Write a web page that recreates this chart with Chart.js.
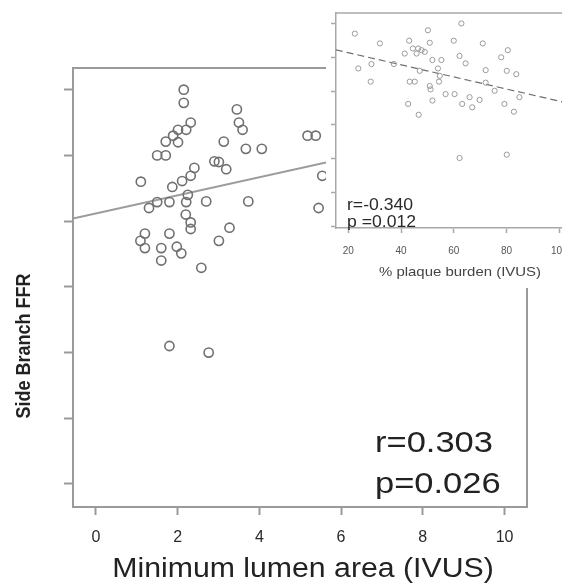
<!DOCTYPE html>
<html>
<head>
<meta charset="utf-8">
<script src="https://cdn.jsdelivr.net/npm/chart.js@4"></script>
<style>
  html, body { margin: 0; padding: 0; background: #fff; overflow: hidden; }
  #wrap { position: relative; width: 562px; height: 586px; overflow: hidden; }
  #main { position: absolute; left: 0; top: 0; }
  #inset { position: absolute; left: 326px; top: 0; background: #fff; }
</style>
</head>
<body>
<div id="wrap">
  <canvas id="main" width="562" height="586"></canvas>
  <canvas id="inset" width="254" height="288"></canvas>
</div>
<script>
// main plot: minimum lumen area vs side branch FFR
const mlaValues = [2.15, 2.15, 2.32, 2.21, 2.01, 1.89, 1.71, 2.01, 1.50, 1.71,
  3.13, 3.45, 3.50, 3.59, 3.67, 4.06, 5.18, 5.38, 5.54, 5.45,
  2.41, 2.32, 2.11, 1.87, 1.10, 2.90, 3.01, 3.19, 2.25, 2.21,
  1.80, 1.50, 1.30, 2.70, 3.73, 2.20, 2.32, 2.32, 3.27, 1.20,
  1.80, 1.09, 1.20, 1.60, 1.98, 2.09, 1.60, 3.01, 2.58, 1.80, 2.76];
const ffrValues = [1.00, 0.980, 0.950, 0.939, 0.939, 0.930, 0.921, 0.920, 0.900, 0.900,
  0.921, 0.970, 0.950, 0.939, 0.910, 0.910, 0.930, 0.930, 0.869, 0.820,
  0.881, 0.869, 0.861, 0.852, 0.860, 0.891, 0.890, 0.879, 0.840, 0.829,
  0.829, 0.829, 0.820, 0.830, 0.830, 0.810, 0.798, 0.788, 0.790, 0.781,
  0.781, 0.770, 0.759, 0.759, 0.761, 0.751, 0.740, 0.770, 0.729, 0.610, 0.600];
const mlaFitX = [-0.56, 10.55];
const mlaFitY = [0.804, 0.957];
const mlaTicks = [0, 2, 4, 6, 8, 10];
const ffrTicks = [0.4, 0.5, 0.6, 0.7, 0.8, 0.9, 1.0];

// inset: plaque burden vs side branch FFR
const burdenValues = [22.5, 32.0, 23.8, 28.8, 28.5, 37.3, 43.1, 41.4, 46.5, 45.9,
  47.8, 50.2, 50.9, 47.1, 43.3, 45.2, 51.9, 55.3, 54.0, 54.7,
  54.4, 50.9, 51.2, 42.7, 46.7, 51.9, 56.9, 60.3, 62.9, 60.0,
  62.2, 64.5, 63.2, 66.0, 67.0, 69.8, 71.0, 72.1, 72.1, 75.5,
  78.0, 80.5, 80.1, 83.7, 79.2, 82.8, 84.9, 62.2, 80.1, 44.5, 49.0];
const burdenFfrValues = [0.970, 0.941, 0.867, 0.880, 0.828, 0.880, 0.949, 0.911, 0.926, 0.911,
  0.921, 0.980, 0.943, 0.860, 0.828, 0.828, 0.892, 0.892, 0.867, 0.845,
  0.828, 0.815, 0.805, 0.762, 0.730, 0.772, 0.791, 0.791, 1.000, 0.949,
  0.904, 0.882, 0.762, 0.782, 0.752, 0.774, 0.941, 0.862, 0.825, 0.801,
  0.900, 0.921, 0.860, 0.850, 0.762, 0.739, 0.782, 0.602, 0.612, 0.926, 0.916];
const burdenFitX = [15.3, 104.6];
const burdenFitY = [0.922, 0.762];
const burdenTicks = [20, 40, 60, 80, 100];

const toPoints = (xs, ys) => xs.map((x, i) => ({ x: x, y: ys[i] }));
const setTicks = (arr) => (scale) => { scale.ticks = arr.map(v => ({ value: v })); };

// the picture is a bit wider than tall, so text is stretched sideways
function stretchText(ctx, text, x, y, sx, align) {
  ctx.save();
  ctx.translate(x, y);
  ctx.scale(sx, 1);
  ctx.textAlign = align;
  ctx.fillText(text, 0, 0);
  ctx.restore();
}

const mainDecor = {
  id: 'mainDecor',
  afterDraw(chart) {
    const ctx = chart.ctx;
    const a = chart.chartArea;
    ctx.save();
    ctx.strokeStyle = '#9a9a9a';
    ctx.lineWidth = 2;
    ctx.beginPath();
    ctx.moveTo(a.left, a.top);
    ctx.lineTo(a.right, a.top);
    ctx.lineTo(a.right, a.bottom);
    ctx.stroke();

    ctx.fillStyle = '#222';
    ctx.textBaseline = 'alphabetic';
    ctx.font = '30px "Liberation Sans", Arial, sans-serif';
    stretchText(ctx, 'r=0.303', 375, 452, 1.15, 'left');
    stretchText(ctx, 'p=0.026', 375, 493, 1.15, 'left');

    ctx.font = '27px "Liberation Sans", Arial, sans-serif';
    stretchText(ctx, 'Minimum lumen area (IVUS)', 303, 577, 1.12, 'center');

    ctx.save();
    ctx.translate(25, 346);
    ctx.rotate(-Math.PI / 2);
    ctx.scale(1, 1.1);
    ctx.font = 'bold 18px "Liberation Sans", Arial, sans-serif';
    ctx.textAlign = 'center';
    ctx.textBaseline = 'middle';
    ctx.fillText('Side Branch FFR', 0, 0);
    ctx.restore();
    ctx.restore();
  }
};

new Chart(document.getElementById('main'), {
  type: 'scatter',
  data: {
    datasets: [
      {
        data: toPoints(mlaValues, ffrValues),
        pointRadius: 4.6,
        pointBorderWidth: 1.6,
        borderColor: '#707070',
        backgroundColor: 'rgba(0,0,0,0)'
      },
      {
        type: 'line',
        data: toPoints(mlaFitX, mlaFitY),
        borderColor: '#9c9c9c',
        borderWidth: 2,
        pointRadius: 0,
        fill: false
      }
    ]
  },
  options: {
    responsive: false,
    animation: false,
    devicePixelRatio: 1,
    layout: { padding: { left: 0, right: 35, top: 68, bottom: 0 } },
    plugins: { legend: { display: false }, tooltip: { enabled: false } },
    scales: {
      x: {
        type: 'linear',
        min: -0.56,
        max: 10.55,
        afterBuildTicks: setTicks(mlaTicks),
        afterFit: (s) => { s.height = 79; },
        grid: { drawOnChartArea: false, drawTicks: true, tickLength: 8, tickColor: '#9a9a9a', tickWidth: 2 },
        border: { color: '#9a9a9a', width: 2 },
        ticks: { color: '#2a2a2a', padding: 13, font: { size: 16, family: '"Liberation Sans", Arial, sans-serif' } }
      },
      y: {
        type: 'linear',
        min: 0.365,
        max: 1.033,
        afterBuildTicks: setTicks(ffrTicks),
        afterFit: (s) => { s.width = 73; },
        grid: { drawOnChartArea: false, drawTicks: true, tickLength: 9, tickColor: '#9a9a9a', tickWidth: 2 },
        border: { color: '#9a9a9a', width: 2 },
        ticks: { display: false }
      }
    }
  },
  plugins: [mainDecor]
});

const insetDecor = {
  id: 'insetDecor',
  afterDraw(chart) {
    const ctx = chart.ctx;
    const a = chart.chartArea;
    ctx.save();
    ctx.strokeStyle = '#a8a8a8';
    ctx.lineWidth = 1.5;
    ctx.beginPath();
    ctx.moveTo(a.left, a.top);
    ctx.lineTo(a.right, a.top);
    ctx.stroke();

    ctx.fillStyle = '#2a2a2a';
    ctx.textBaseline = 'alphabetic';
    ctx.font = '16px "Liberation Sans", Arial, sans-serif';
    stretchText(ctx, 'r=-0.340', 21, 210, 1.1, 'left');
    stretchText(ctx, 'p =0.012', 21, 227, 1.1, 'left');

    ctx.fillStyle = '#444';
    ctx.font = '13px "Liberation Sans", Arial, sans-serif';
    ctx.textBaseline = 'middle';
    stretchText(ctx, '% plaque burden (IVUS)', 134, 272, 1.15, 'center');
    ctx.restore();
  }
};

new Chart(document.getElementById('inset'), {
  type: 'scatter',
  data: {
    datasets: [
      {
        data: toPoints(burdenValues, burdenFfrValues),
        pointRadius: 2.6,
        pointBorderWidth: 1,
        borderColor: '#9a9a9a',
        backgroundColor: 'rgba(0,0,0,0)'
      },
      {
        type: 'line',
        data: toPoints(burdenFitX, burdenFitY),
        borderColor: '#707070',
        borderWidth: 1.2,
        borderDash: [7, 4],
        pointRadius: 0,
        fill: false
      }
    ]
  },
  options: {
    responsive: false,
    animation: false,
    devicePixelRatio: 1,
    layout: { padding: { left: 0, right: 8, top: 13, bottom: 0 } },
    plugins: { legend: { display: false }, tooltip: { enabled: false } },
    scales: {
      x: {
        type: 'linear',
        min: 15.35,
        max: 104.6,
        afterBuildTicks: setTicks(burdenTicks),
        afterFit: (s) => { s.height = 60; },
        grid: { drawOnChartArea: false, drawTicks: true, tickLength: 5, tickColor: '#a8a8a8', tickWidth: 1.5 },
        border: { color: '#a8a8a8', width: 1.5 },
        ticks: { color: '#555', padding: 12, font: { size: 10, family: '"Liberation Sans", Arial, sans-serif' } }
      },
      y: {
        type: 'linear',
        min: 0.395,
        max: 1.031,
        afterBuildTicks: setTicks(ffrTicks),
        afterFit: (s) => { s.width = 10; },
        grid: { drawOnChartArea: false, drawTicks: true, tickLength: 5, tickColor: '#a8a8a8', tickWidth: 1.5 },
        border: { color: '#a8a8a8', width: 1.5 },
        ticks: { display: false }
      }
    }
  },
  plugins: [insetDecor]
});
</script>
</body>
</html>
